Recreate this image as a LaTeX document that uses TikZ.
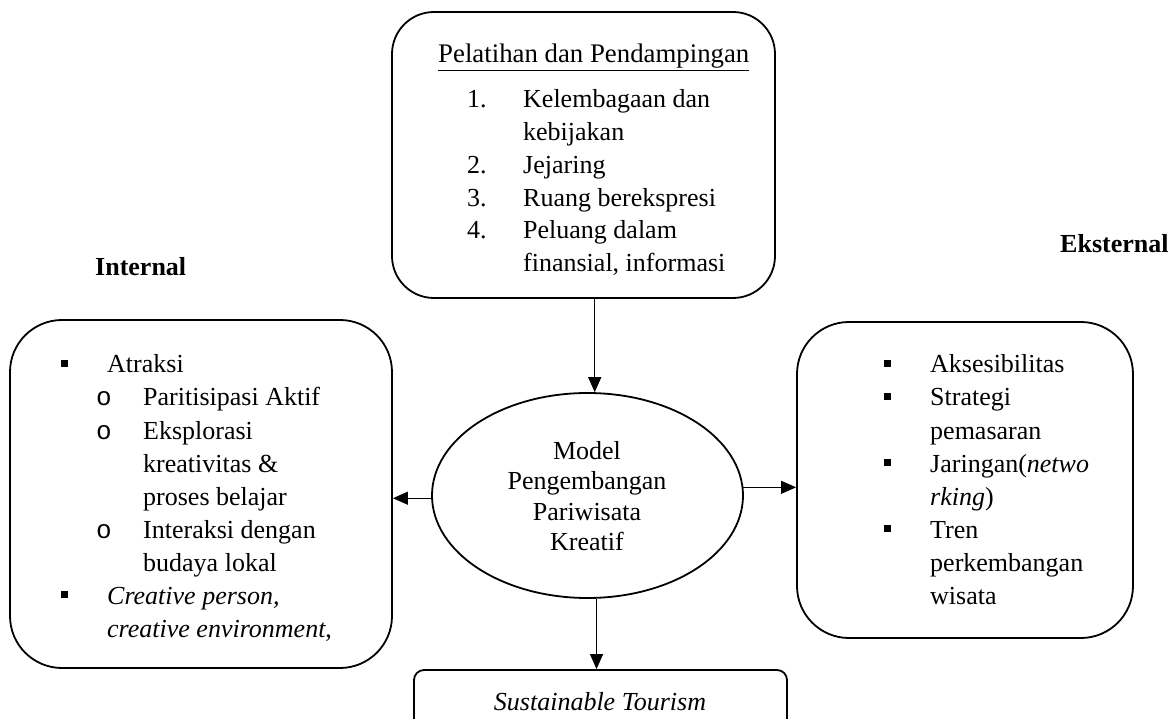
\documentclass[tikz,border=0pt]{standalone}
\usepackage{fontspec}
\setmainfont{Liberation Serif}
\newfontfamily\monofam{Liberation Mono}
\usetikzlibrary{arrows.meta,shapes.geometric}
\tikzset{
  rbox/.style={draw, line width=1.8pt, rectangle, inner sep=0pt},
  txt/.style={anchor=base west, inner sep=0pt, font=\fontsize{26}{32}\selectfont},
  ctxt/.style={anchor=base, inner sep=0pt, font=\fontsize{26}{32}\selectfont},
  head/.style={anchor=base west, inner sep=0pt, font=\fontsize{26}{32}\selectfont\bfseries},
  sq/.style={fill=black, rectangle, minimum size=7pt, inner sep=0pt},
  obul/.style={anchor=base west, inner sep=0pt, font=\fontsize{26}{32}\selectfont\monofam},
  arr/.style={line width=1pt, -{Triangle[length=15pt,width=13pt]}},
}
\begin{document}
\begin{tikzpicture}[x=1pt,y=-1pt]
\useasboundingbox (0,0) rectangle (1171,719);

% boxes
\node[rbox, rounded corners=42pt, minimum width=383pt, minimum height=286pt] (tb) at (583.5,155) {};
\node[rbox, rounded corners=52pt, minimum width=382pt, minimum height=348pt] (lb) at (201,494) {};
\node[rbox, rounded corners=52pt, minimum width=336pt, minimum height=316pt] (rb) at (965,480) {};
\node[draw, line width=1.8pt, ellipse, minimum width=311pt, minimum height=205pt, inner sep=0pt] (ell) at (587.5,495.5) {};
\node[rbox, rounded corners=10pt, minimum width=373pt, minimum height=70pt] (sb) at (600.5,705) {};

% headings
\node[head] (hint) at (95,276) {Internal};
\node[head] (hext) at (1060,253) {Eksternal};

% top box text
\node[txt, font=\fontsize{26.8}{32}\selectfont] (t0) at (438,63) {\underline{Pelatihan dan Pendampingan}};
\node[txt] (n1) at (467,108) {1.};
\node[txt] (t1) at (523,108) {Kelembagaan dan};
\node[txt] (t1b) at (523,140.7) {kebijakan};
\node[txt] (n2) at (467,173.4) {2.};
\node[txt] (t2) at (523,173.4) {Jejaring};
\node[txt] (n3) at (467,206.1) {3.};
\node[txt] (t3) at (523,206.1) {Ruang berekspresi};
\node[txt] (n4) at (467,238.8) {4.};
\node[txt] (t4) at (523,238.8) {Peluang dalam};
\node[txt] (t4b) at (523,271.5) {finansial, informasi};

% left box text
\node[sq] (lq1) at (64,363.5) {};
\node[txt] (l1) at (107,373) {Atraksi};
\node[obul] (lo1) at (96,406) {o};
\node[txt] (l2) at (143,406) {Paritisipasi Aktif};
\node[obul] (lo2) at (96,439) {o};
\node[txt] (l3) at (143,439) {Eksplorasi};
\node[txt] (l3b) at (143,472) {kreativitas \&};
\node[txt] (l3c) at (143,505) {proses belajar};
\node[obul] (lo3) at (96,538) {o};
\node[txt] (l4) at (143,538) {Interaksi dengan};
\node[txt] (l4b) at (143,571) {budaya lokal};
\node[sq] (lq2) at (64,594.5) {};
\node[txt] (l5) at (107,604) {\itshape Creative person,};
\node[txt] (l5b) at (107,637) {\itshape creative environment\upshape,};

% right box text
\node[sq] (rq1) at (887,363.5) {};
\node[txt] (r1) at (930,373) {Aksesibilitas};
\node[sq] (rq2) at (887,396.5) {};
\node[txt] (r2) at (930,406) {Strategi};
\node[txt] (r2b) at (930,439) {pemasaran};
\node[sq] (rq3) at (887,462.5) {};
\node[txt] (r3) at (930,472) {Jaringan(\textit{netwo}};
\node[txt] (r3b) at (930,505) {\textit{rking})};
\node[sq] (rq4) at (887,528.5) {};
\node[txt] (r4) at (930,538) {Tren};
\node[txt] (r4b) at (930,571) {perkembangan};
\node[txt] (r4c) at (930,604) {wisata};

% ellipse text
\node[ctxt] (e1) at (587,459.5) {Model};
\node[ctxt] (e2) at (587,489.8) {Pengembangan};
\node[ctxt] (e3) at (587,520.1) {Pariwisata};
\node[ctxt] (e4) at (587,550.4) {Kreatif};

% sustainable
\node[ctxt] (s1) at (600,710) {\itshape Sustainable Tourism};

% arrows
\draw[arr] (ell.86 |- tb.south) -- (ell.86);
\draw[arr] (ell.181) -- (ell.181 -| lb.east);
\draw[arr] (ell.3) -- (ell.3 -| rb.west);
\draw[arr] (ell.-85) -- (ell.-85 |- sb.north);
\end{tikzpicture}
\end{document}
